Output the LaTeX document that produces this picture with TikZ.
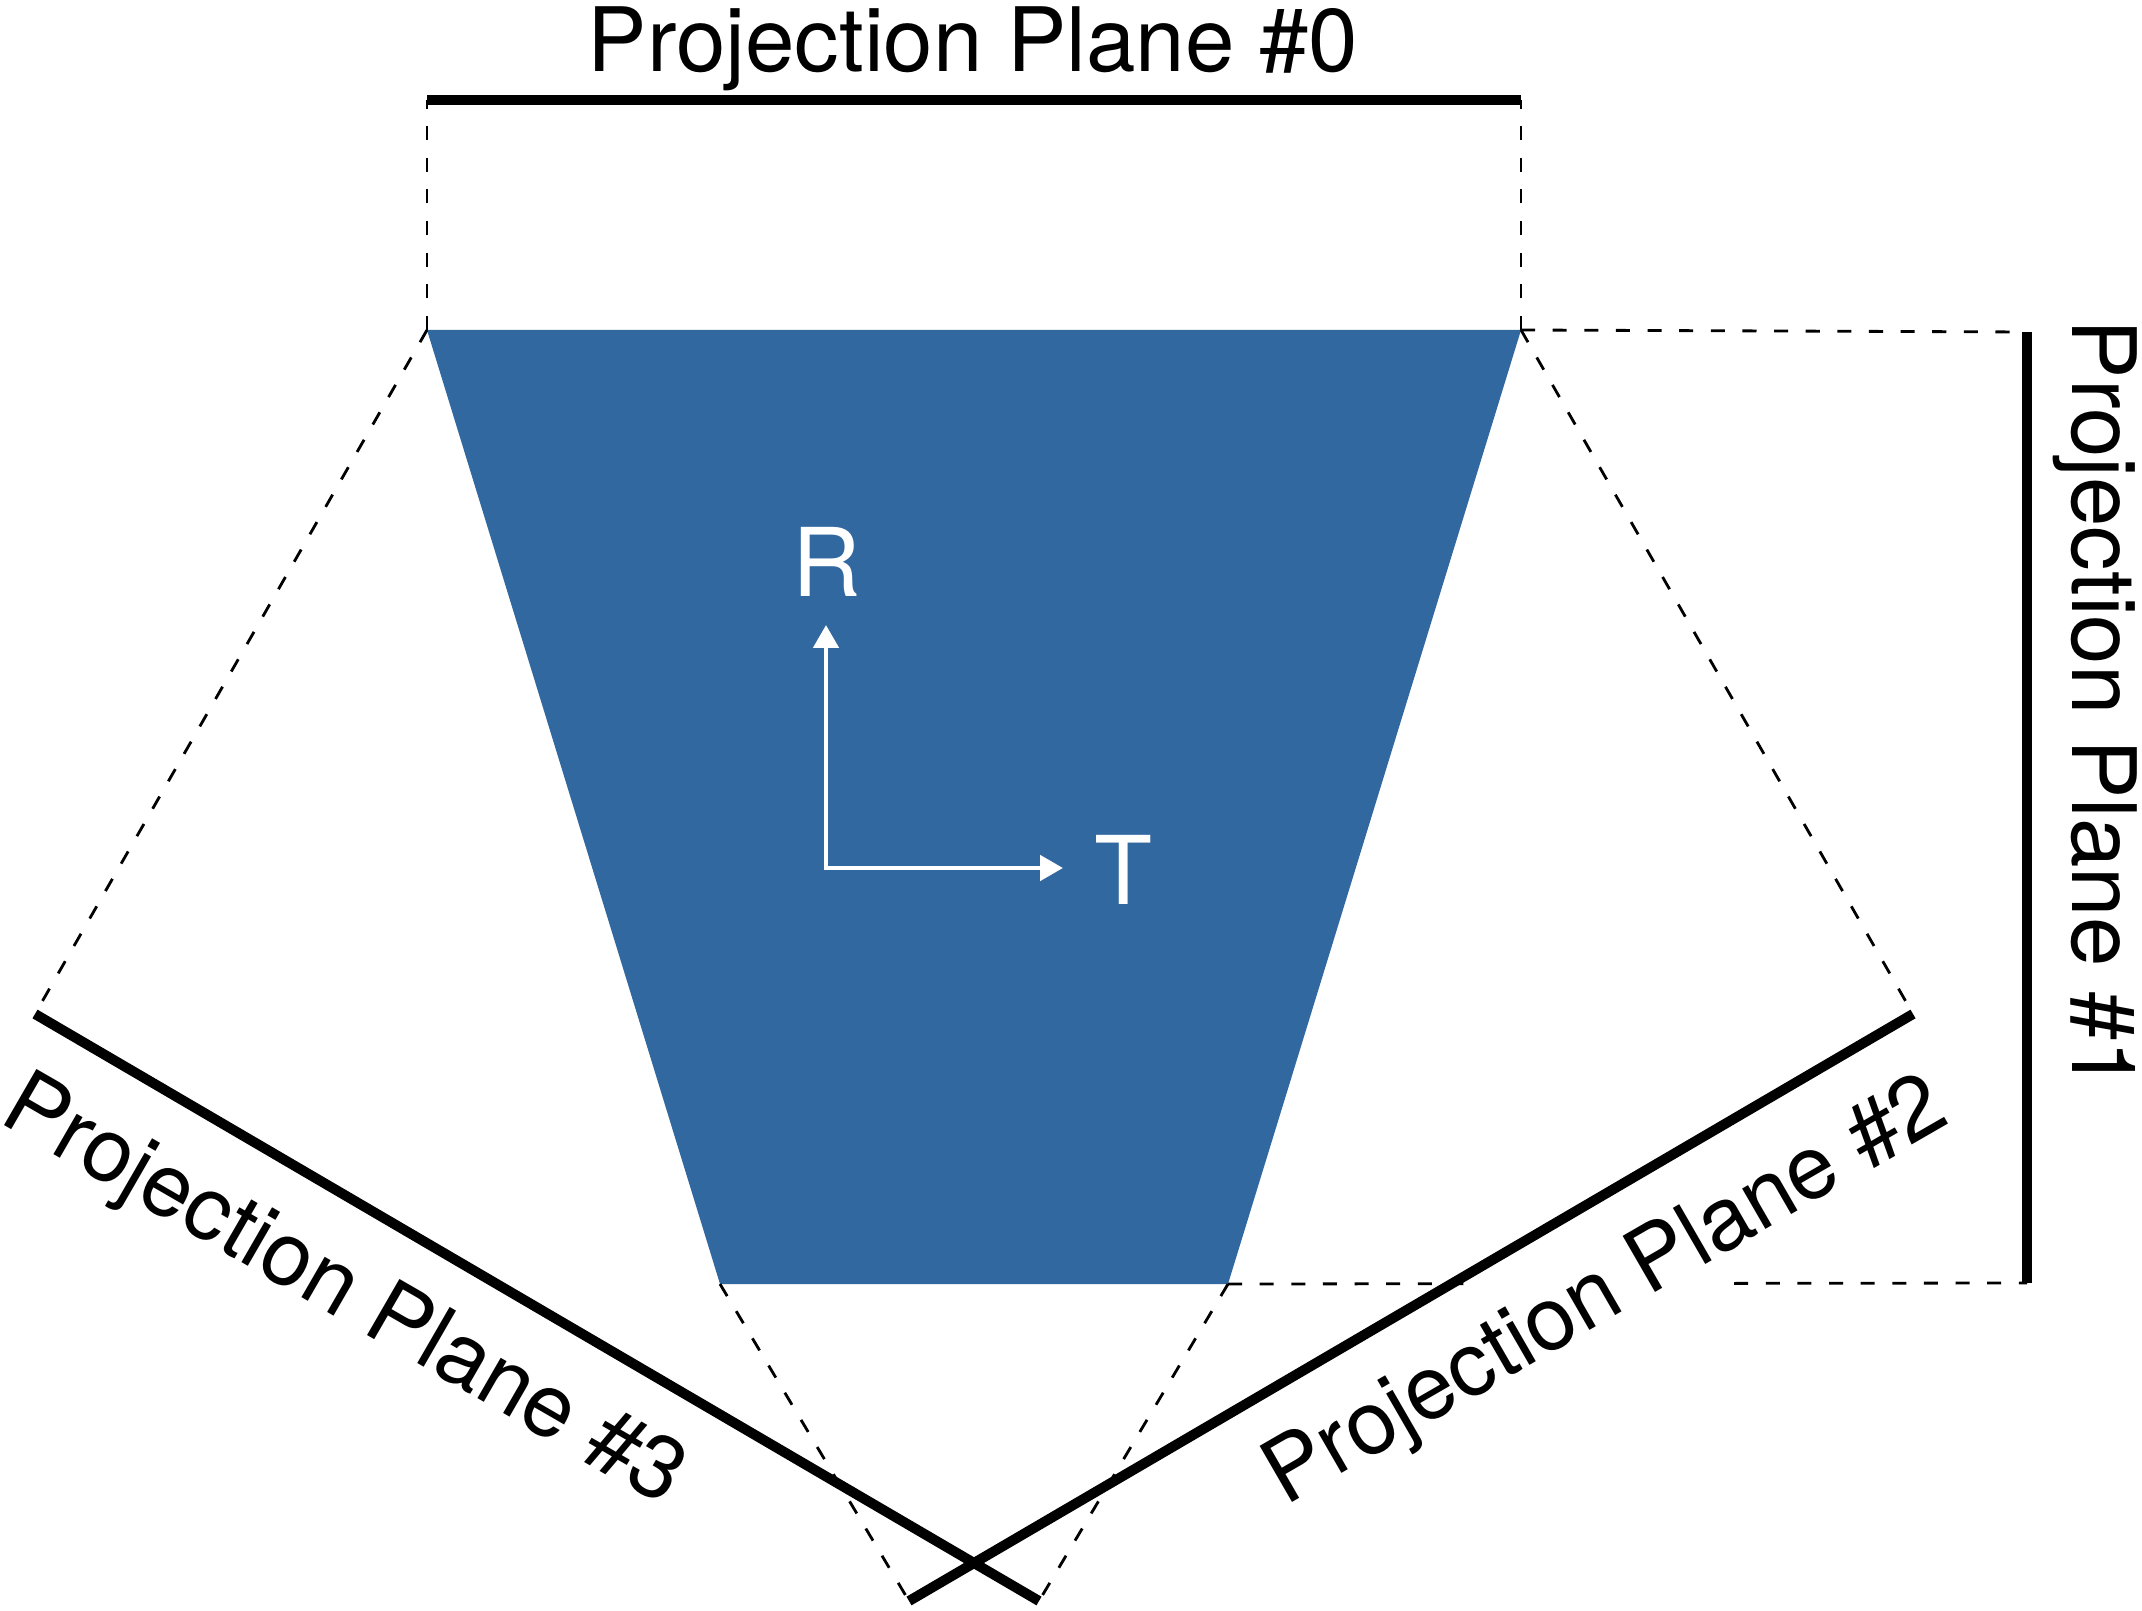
\documentclass[tikz,border=0pt]{standalone}
\usepackage{fontspec}
\setmainfont{TeX Gyre Heros}
\usetikzlibrary{arrows.meta}
\definecolor{trapblue}{RGB}{50,104,160}

\begin{document}
\begin{tikzpicture}[
    plane/.style={line width=2.85pt},
    proj/.style={line width=0.8pt, dash pattern=on 4pt off 5pt},
    axis/.style={white, line width=1.35pt, {Triangle[length=0.23cm, width=0.25cm]}-{Triangle[length=0.23cm, width=0.25cm]}},
    plabel/.style={inner sep=0pt, font=\fontsize{25.3}{30}\selectfont},
    alabel/.style={inner sep=0pt, text=white, font=\fontsize{27}{32}\selectfont}]
  \useasboundingbox (0,0) rectangle (21.42,16.10);
  % trapezoid corners
  \coordinate (tl) at (4.27,12.80);
  \coordinate (tr) at (15.21,12.80);
  \coordinate (bl) at (7.20,3.26);
  \coordinate (br) at (12.28,3.26);
  % plane ends
  \coordinate (p0a) at (4.27,15.10);
  \coordinate (p0b) at (15.21,15.10);
  \coordinate (p1a) at (20.27,12.78);
  \coordinate (p1b) at (20.27,3.27);
  \coordinate (p2a) at (9.09,0.09);
  \coordinate (p2b) at (19.13,5.96);
  \coordinate (p3a) at (0.35,5.96);
  \coordinate (p3b) at (10.39,0.09);

  \fill[trapblue] (tl) -- (tr) -- (br) -- (bl) -- cycle;

  % projections
  \draw[proj] (tl) -- (p0a);
  \draw[proj] (tr) -- (p0b);
  \draw[proj] (tr) -- (p1a);
  \draw[proj] (br) -- (p1b);
  \draw[proj] (tr) -- (p2b);
  \draw[proj] (bl) -- (p2a);
  \draw[proj] (tl) -- (p3a);
  \draw[proj] (br) -- (p3b);

  \node[plabel, anchor=base] (lab0) at (9.73,15.38) {Projection Plane \#0};
  \node[plabel, anchor=base, rotate=-90] (lab1) at (20.72,9.05) {Projection Plane \#1};
  \node[plabel, anchor=base, rotate=30, fill=white, text height=1cm, text depth=0.3cm] (lab2) at (16.19,2.96) {Projection Plane \#2};
  \node[plabel, anchor=base, rotate=-30] (lab3) at (3.31,2.96) {Projection Plane \#3};

  % planes
  \draw[plane] (p0a) -- (p0b);
  \draw[plane] (p1a) -- (p1b);
  \draw[plane] (p2a) -- (p2b);
  \draw[plane] (p3a) -- (p3b);

  % axes
  \coordinate (o) at (8.26,7.42);
  \coordinate (rtip) at (8.26,9.85);
  \coordinate (ttip) at (10.63,7.42);
  \draw[axis] (rtip) -- (o) -- (ttip);
  \node[alabel, anchor=base] (r) at (8.27,10.13) {R};
  \node[alabel, anchor=base] (t) at (11.23,7.06) {T};
\end{tikzpicture}
\end{document}
